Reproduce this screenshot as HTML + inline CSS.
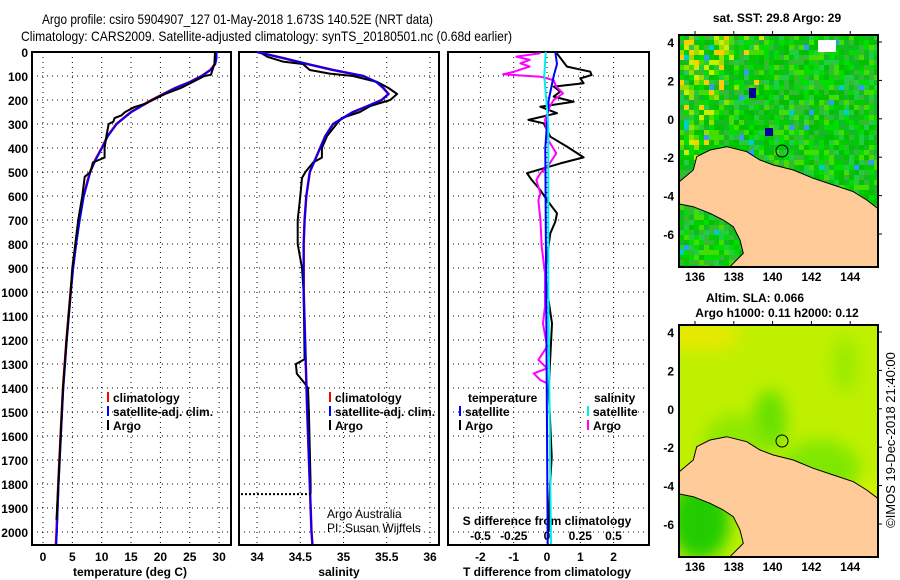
<!DOCTYPE html>
<html><head><meta charset="utf-8"><style>
body{margin:0;background:#fff}
svg{display:block;font-family:"Liberation Sans",sans-serif}
.b{font-weight:bold;font-size:12px}
.n{font-weight:normal}
</style></head><body>
<svg id="s" width="900" height="580" viewBox="0 0 900 580" xmlns="http://www.w3.org/2000/svg">
<text x="42" y="24" font-size="14" textLength="391" lengthAdjust="spacingAndGlyphs">Argo profile: csiro 5904907_127 01-May-2018 1.673S 140.52E (NRT data)</text>
<text x="21" y="41" font-size="14" textLength="491" lengthAdjust="spacingAndGlyphs">Climatology: CARS2009. Satellite-adjusted climatology: synTS_20180501.nc (0.68d earlier)</text>
<defs><clipPath id="cp2"><rect x="679" y="325" width="199" height="232"/></clipPath><clipPath id="cp1"><rect x="679" y="35" width="199" height="232"/></clipPath></defs>
<g id="g"></g>
</svg>
<script>
// ---- data ----
const tempClimDepth=[0,25,50,75,100,125,150,175,200,250,300,350,400,450,500,600,700,800,900,1000,1200,1400,1600,1800,2000,2050];
const tempClim=[29.5,29.5,29.3,28.5,27,25,22.5,20.5,18.5,15,12.5,11,10,8.9,8,6.9,6.2,5.6,5.1,4.7,4,3.4,3,2.6,2.3,2.2];
const tempArgoDepth=[0,50,80,95,100,125,150,175,200,215,230,250,265,275,290,300,350,400,440,450,460,500,520,600,700,800,900,1000,1200,1400,1600,1800,1950];
const tempArgo=[29.3,29.2,28.8,28.6,27.5,25.5,23.5,20.8,18.7,17.5,15.5,14,13.3,12.2,12,11.2,10.8,10.5,10.5,9.5,8.5,8.1,7.1,6.7,6,5.5,5,4.7,4,3.4,3,2.6,2.3];
const salClimDepth=[0,25,50,75,100,125,150,175,200,225,250,300,350,400,500,600,700,800,1000,1500,2000,2050];
const salClim=[34.0,34.3,34.58,34.88,35.23,35.38,35.46,35.52,35.44,35.28,35.11,34.88,34.79,34.73,34.61,34.57,34.55,34.54,34.54,34.58,34.63,34.64];
const salArgoDepth=[0,20,40,50,75,90,100,125,150,175,200,225,250,275,300,350,400,440,460,500,525,600,700,800,900,1000,1280,1300,1340,1380,1400,1500,1800,1840];
const salArgo=[34.03,34.12,34.3,34.53,34.61,34.84,35.11,35.39,35.52,35.62,35.54,35.31,35.19,34.98,34.92,34.81,34.75,34.75,34.65,34.56,34.52,34.5,34.47,34.47,34.52,34.54,34.55,34.45,34.46,34.55,34.59,34.6,34.62,34.62];
const tDiffDepth=[5,61,82,96,110,130,144,165,186,207,228,255,283,297,353,394,439,464,505,533,575,617,672,707,756,853,922,992,1131,1270,1408,1686,1811,2000];
const tDiff=[0.29,0.6,1.3,1.34,1.0,1.1,0.2,0.4,0.2,0.8,-0.2,0.3,-0.56,-0.1,0.1,0.6,1.1,0.4,-0.6,-0.46,-0.2,0,0.3,0.25,0.1,0,-0.05,0,0.15,0.1,0.05,0.14,0.09,0.05];
const sDiffDepth=[5,19,33,47,61,82,93,103,117,144,172,200,228,283,367,422,464,505,533,589,617,700,811,922,1061,1131,1228,1283,1318,1339,1367,1380];
const sDiff=[-0.05,-0.23,-0.13,-0.2,-0.13,-0.25,-0.33,-0.05,0.05,0.07,0.12,0.05,0.02,-0.015,0.01,0.07,0.02,-0.05,-0.08,-0.05,-0.065,-0.05,-0.04,-0.015,-0.015,-0.03,0,-0.065,0,-0.1,-0.05,0];
const tSatDepth=[0,50,100,200,300,400,2050];
const tSat=[0.25,0.3,0.2,0.05,0,-0.05,0.02];
const sSatDepth=[0,100,300,1000,2050];
const sSat=[-0.01,-0.02,0.01,0.01,0.03];
const depthTicks=[0,100,200,300,400,500,600,700,800,900,1000,1100,1200,1300,1400,1500,1600,1700,1800,1900,2000];
const tempTicks=[0,5,10,15,20,25,30];
const salTicks=[34,34.5,35,35.5,36];
const salTickLabels=["34","34.5","35","35.5","36"];
const tdTicks=[-2,-1,0,1,2];
const sdTicks=[-0.5,-0.25,0,0.25,0.5];
const sdTickLabels=["-0.5","-0.25","0","0.25","0.5"];
const latTicks=[4,2,0,-2,-4,-6];
const lonTicks=[136,138,140,142,144];

const NS="http://www.w3.org/2000/svg",G=document.getElementById('g');
function el(t,a,p){const e=document.createElementNS(NS,t);for(const k in a)e.setAttribute(k,a[k]);(p||G).appendChild(e);return e;}
const Y0=52,Y1=545;
const yD=d=>Y0+d*0.24;
const xT=v=>43+v*5.87;
const xS=v=>257+(v-34)*86.5;
const xTD=v=>547+v*33.3;
const xSD=v=>547+v*133;

function panel(x0,x1,vx,name){
  const r=el('rect',{x:x0,y:Y0,width:x1-x0,height:Y1-Y0,fill:'none',stroke:'#000','stroke-width':2});
  
  depthTicks.forEach(d=>{const l=el('line',{x1:x0,x2:x1,y1:yD(d),y2:yD(d),stroke:'#000','stroke-dasharray':'1,4'});
    });
  vx.forEach(x=>{const l=el('line',{x1:x,x2:x,y1:Y0,y2:Y1,stroke:'#000','stroke-dasharray':'1,4'});
    });
}
function line(ds,vs,fx,col,w,name){
  const pts=ds.map((d,i)=>fx(vs[i]).toFixed(1)+','+yD(d).toFixed(1)).join(' ');
  const p=el('polyline',{points:pts,fill:'none',stroke:col,'stroke-width':w,'stroke-linejoin':'round'});
  
}
function txt(x,y,s,cls,anchor,name,extra){
  const t=el('text',Object.assign({x:x,y:y,class:cls,'text-anchor':anchor||'start'},extra||{}));t.textContent=s;
  return t;
}
panel(32,231,tempTicks.map(xT),'temp-panel');
panel(239,439,salTicks.map(xS),'sal-panel');
panel(448,649,tdTicks.map(xTD),'diff-panel');
depthTicks.forEach(d=>txt(28,yD(d)+5,String(d),'b','end','depth-tick-label'));
tempTicks.forEach(v=>txt(xT(v),561,String(v),'b','middle','temp-tick-label'));
salTicks.forEach((v,i)=>txt(xS(v),561,salTickLabels[i],'b','middle','sal-tick-label'));
tdTicks.forEach(v=>txt(xTD(v),561,String(v),'b','middle','tdiff-tick-label'));
sdTicks.forEach((v,i)=>txt(xSD(v),540,sdTickLabels[i],'b','middle','sdiff-tick-label'));
txt(130,576,'temperature (deg C)','b','middle','temp-axis-title');
txt(339,576,'salinity','b','middle','sal-axis-title');
txt(547,576,'T difference from climatology','b','middle','tdiff-axis-title');
txt(547,525,'S difference from climatology','b','middle','sdiff-axis-title');
line(tempClimDepth,tempClim,xT,'#f00',2.5,'temp-climatology-line');
line(tempClimDepth,tempClim.map(v=>v+0.05),xT,'#00f',2,'temp-satadj-line');
line(tempArgoDepth,tempArgo,xT,'#000',2,'temp-argo-line');
line(salClimDepth,salClim,xS,'#f00',2.5,'sal-climatology-line');
line(salArgoDepth,salArgo,xS,'#000',2,'sal-argo-line');
line(salClimDepth,salClim,xS,'#00f',2,'sal-satadj-line');
const dl=el('line',{x1:241,x2:xS(34.62),y1:yD(1842),y2:yD(1842),stroke:'#000','stroke-width':2,'stroke-dasharray':'2,2'});

line(tDiffDepth,tDiff,xTD,'#000',2,'tdiff-argo-line');
line(sDiffDepth,sDiff,xSD,'#f0f',2,'sdiff-argo-line');
line(tSatDepth,tSat,xTD,'#00f',2,'tdiff-satellite-line');
line(sSatDepth,sSat,xSD,'#0ee',2,'sdiff-satellite-line');
function leg(x,y,col,s,name){const l=el('line',{x1:x,x2:x,y1:y-10,y2:y,stroke:col,'stroke-width':2});
  txt(x+5,y,s,'b','start',name);}
leg(108,402,'#f00','climatology','legend-climatology');
leg(108,416,'#00f','satellite-adj. clim.','legend-satadj');
leg(108,430,'#000','Argo','legend-argo');
leg(330,402,'#f00','climatology','legend2-climatology');
leg(330,416,'#00f','satellite-adj. clim.','legend2-satadj');
leg(330,430,'#000','Argo','legend2-argo');
txt(468,402,'temperature','b','start','legend-temperature-heading');
txt(594,402,'salinity','b','start','legend-salinity-heading');
leg(460,416,'#00f','satellite','legend-t-satellite');
leg(460,430,'#000','Argo','legend-t-argo');
leg(588,416,'#0ee','satellite','legend-s-satellite');
leg(588,430,'#f0f','Argo','legend-s-argo');
txt(327,518,'Argo Australia','n','start','credit-argo-australia',{'font-size':12});
txt(327,532,'PI: Susan Wijffels','n','start','credit-pi',{'font-size':12});
// ---- maps ----
const MX0=679,MX1=878;
const lonX=l=>695+(l-136)*19.4;
function hash(i,j,s){let h=(i*374761393+j*668265263+s*982451653)|0;h=(h^(h>>>13))*1274126177|0;return ((h^(h>>>16))>>>0)/4294967296;}
function land(my,name){
  const c=[[58,545],[100,510],[110,470],[150,450],[200,440],[260,455],[300,480],[340,495],[400,510],[460,535],[520,555],[580,575],[620,600],[653,625],[653,800],[210,800],[250,760],[240,720],[220,680],[190,660],[150,640],[100,620],[58,612]];
  const p=el('polygon',{points:c.map(q=>(660+q[0]/3).toFixed(1)+','+(my-35+q[1]/3).toFixed(1)).join(' '),fill:'#fc9',stroke:'#000','stroke-width':1});
  
}
function mapFrame(my,name){
  const f=el('rect',{x:MX0,y:my,width:MX1-MX0,height:232,fill:'none',stroke:'#000','stroke-width':2});
  
  latTicks.forEach(l=>{const y=my+7+(4-l)*19.2;txt(674,y+5,String(l),'b','end',name+'-lat-label',{'font-size':13});
    el('line',{x1:MX1,x2:MX1+4,y1:y,y2:y,stroke:'#000'});});
  lonTicks.forEach(l=>{txt(lonX(l),my+246,String(l),'b','middle',name+'-lon-label',{'font-size':13});
    el('line',{x1:lonX(l),x2:lonX(l),y1:my-4,y2:my,stroke:'#000'});});
  const c=el('circle',{cx:782,cy:my+116,r:6,fill:'none',stroke:'#000','stroke-width':1});
  
}
const m1=el('g',{'clip-path':'url(#cp1)'});
const pal=['#00cc00','#11bb22','#00dd00','#22cc44','#44dd00','#00c000','#33bb33'];
for(let i=0;i<40;i++)for(let j=0;j<47;j++){
  const r=hash(i,j,1);let col=pal[Math.floor(hash(i,j,2)*pal.length)];
  const warm=Math.max(0,1-(i/22+j/30));
  if(r<warm*0.6)col=r<warm*0.15?'#ffcc00':(r<warm*0.35?'#ccee00':'#99dd00');
  else if(r>0.985)col='#00cccc';else if(r>0.975)col='#3399ff';
  el('rect',{x:MX0+i*5,y:35+j*5,width:5.2,height:5.2,fill:col},m1);
}
el('rect',{x:749,y:88,width:7,height:10,fill:'#000099'},m1);
el('rect',{x:765,y:128,width:8,height:8,fill:'#000099'},m1);
el('rect',{x:818,y:40,width:18,height:12,fill:'#fff'},m1);
land(35,'sst-map-land');
mapFrame(35,'sst-map');
txt(777,22,'sat. SST: 29.8 Argo: 29','b','middle','sst-map-title');
const m2=el('g',{'clip-path':'url(#cp2)'});
const df=el('defs',{});const fl=el('filter',{id:'bl'},df);el('feGaussianBlur',{stdDeviation:8},fl);
el('rect',{x:MX0,y:325,width:199,height:232,fill:'#bff000'},m2);
const bg=el('g',{filter:'url(#bl)'},m2);
el('ellipse',{cx:700,cy:335,rx:40,ry:15,fill:'#e8e800'},bg);
el('ellipse',{cx:770,cy:420,rx:16,ry:30,fill:'#66e000'},bg);
el('ellipse',{cx:735,cy:440,rx:30,ry:25,fill:'#8ee800'},bg);
el('ellipse',{cx:820,cy:470,rx:40,ry:30,fill:'#80e800'},bg);
el('ellipse',{cx:845,cy:365,rx:12,ry:28,fill:'#99ea00'},bg);
el('ellipse',{cx:700,cy:520,rx:30,ry:40,fill:'#22cc00'},bg);
el('ellipse',{cx:868,cy:520,rx:15,ry:40,fill:'#dcf500'},bg);
land(325,'sla-map-land');
mapFrame(325,'sla-map');
txt(755,302,'Altim. SLA: 0.066','b','middle','sla-map-title');
txt(777,317,'Argo h1000: 0.11 h2000: 0.12','b','middle','sla-map-subtitle');
txt(0,0,'©IMOS 19-Dec-2018 21:40:00','n','middle','imos-timestamp',{'font-size':13,transform:'translate(895,440) rotate(-90)'});
</script>
</body></html>
